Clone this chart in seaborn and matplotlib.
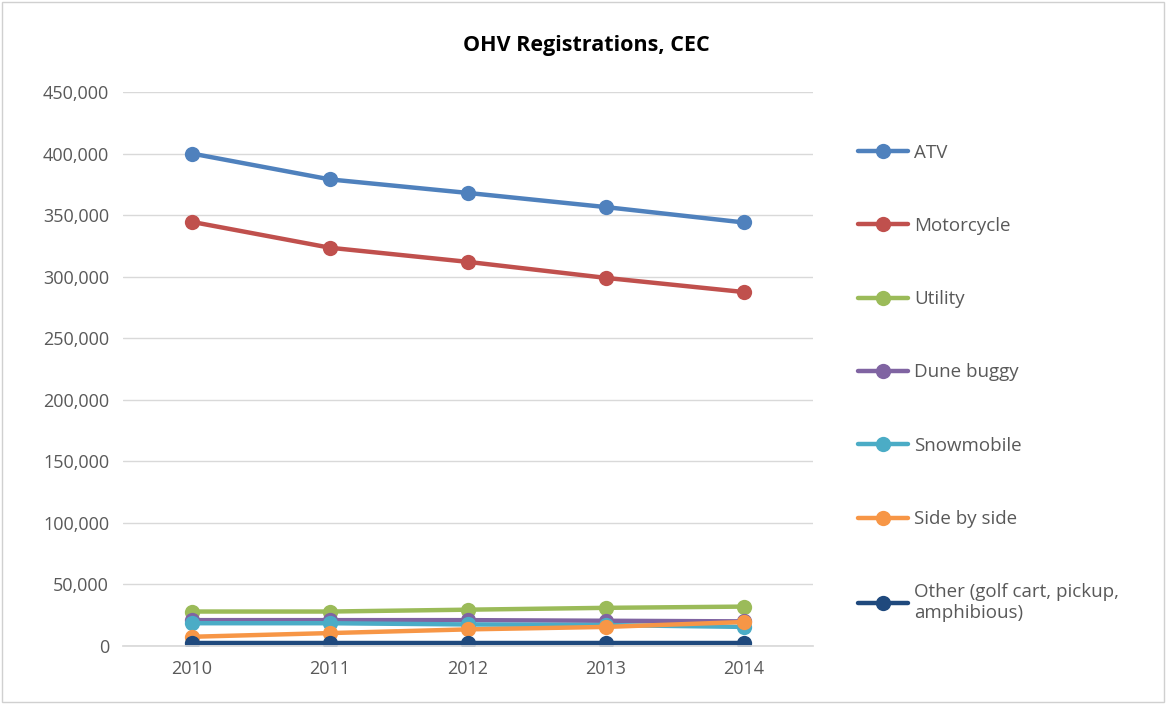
import matplotlib
matplotlib.use("Agg")
import matplotlib.pyplot as plt
import matplotlib.ticker as mticker
from matplotlib.patches import Rectangle
import seaborn as sns
import pandas as pd

years = [2010, 2011, 2012, 2013, 2014]
atv = [400000, 379000, 368000, 356500, 344000]
motorcycle = [344500, 323500, 312000, 299000, 287500]
utility = [28000, 28000, 29500, 31000, 32000]
dune_buggy = [21000, 21000, 21000, 20500, 20000]
snowmobile = [18500, 18500, 17500, 17000, 15500]
side_by_side = [7500, 10500, 13500, 15500, 19500]
other = [2500, 2500, 2500, 2500, 2500]

series_names = ["ATV", "Motorcycle", "Utility", "Dune buggy", "Snowmobile",
                "Side by side", "Other (golf cart, pickup,\namphibious)"]
series_values = [atv, motorcycle, utility, dune_buggy, snowmobile, side_by_side, other]
colors = ["#4F81BD", "#C0504D", "#9BBB59", "#8064A2", "#4BACC6", "#F79646", "#1F497D"]

rows = []
for name, vals in zip(series_names, series_values):
    for y, v in zip(years, vals):
        rows.append({"Year": y, "Registrations": v, "Type": name})
df = pd.DataFrame(rows)

sns.set_theme(style="white")
plt.rcParams["font.family"] = ["Open Sans", "DejaVu Sans"]

fig = plt.figure(figsize=(11.66, 7.04), dpi=100)
ax = fig.add_axes([123 / 1166, 1 - 646 / 704, (813 - 123) / 1166, (646 - 92) / 704])

sns.lineplot(data=df, x="Year", y="Registrations", hue="Type", hue_order=series_names,
             palette=colors, marker="o", markersize=11, markeredgewidth=0,
             linewidth=3.2, ax=ax, legend=True)

ax.set_xlim(2009.5, 2014.5)
ax.set_ylim(0, 450000)
ax.set_xticks(years)
ax.set_yticks(range(0, 450001, 50000))
ax.yaxis.set_major_formatter(mticker.FuncFormatter(lambda v, p: f"{int(v):,}"))
ax.grid(axis="y", color="#D9D9D9", linewidth=1)
ax.set_axisbelow(True)
for s in ["top", "right", "left"]:
    ax.spines[s].set_visible(False)
ax.spines["bottom"].set_color("#D9D9D9")
ax.tick_params(axis="both", length=0, labelsize=13, colors="#595959", pad=10)
ax.set_xlabel("")
ax.set_ylabel("")

fig.text(586 / 1166, 1 - 45 / 704, "OHV Registrations, CEC", ha="center", va="center",
         fontsize=15.5, fontweight="bold", color="#000000")

handles, labels = ax.get_legend_handles_labels()
ax.legend(handles, labels, loc="upper left", bbox_to_anchor=(850 / 1166, 1 - 136 / 704),
          bbox_transform=fig.transFigure, frameon=False, fontsize=13.5,
          labelcolor="#595959", labelspacing=2.95, handlelength=2.7, handletextpad=0.3,
          borderaxespad=0)

fig.patches.append(Rectangle((2 / 1166, 2 / 704), 1 - 4 / 1166, 1 - 4 / 704,
                             transform=fig.transFigure, fill=False,
                             edgecolor="#D0D0D0", linewidth=1))

fig.savefig("out.png", dpi=100)
